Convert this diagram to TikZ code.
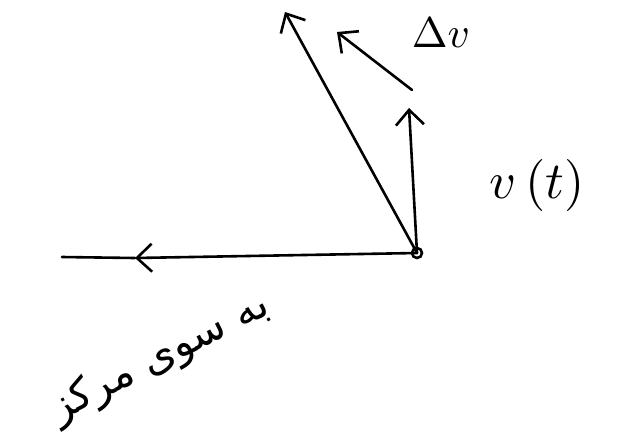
\documentclass[tikz,border=0pt]{standalone}
\usepackage{fontspec}
\usetikzlibrary{arrows.meta}
\newfontfamily\arabicfont[Script=Arabic]{DejaVu Sans}
\TeXXeTstate=1
\tikzset{
  vec/.style={line width=2.6pt, line cap=round, -{Straight Barb[length=15pt,width=28pt,line width=2.6pt]}},
  lbl/.style={inner sep=0pt}
}

\begin{document}
\begin{tikzpicture}[x=1pt,y=-1pt]
            \useasboundingbox (0,0) rectangle (619,440);
            \coordinate (O) at (417,253);
            \coordinate (vt) at (409,108);
            \coordinate (vdt) at (285,12);
            \coordinate (dvs) at (412,90);
            \coordinate (dve) at (337,32);
            \coordinate (tipw) at (135,258);
            \coordinate (west) at (62,257);

            \draw[vec] (O) -- (vt);
            \draw[vec] (O) -- (vdt);
            \draw[vec] (dvs) -- (dve);
            \draw[vec] (O) -- (tipw);
            \draw[line width=2.6pt, line cap=round] (tipw) -- (west);
            \draw[line width=2.6pt] (O) circle (5);

            \node[lbl, scale=4.3] (dv) at (441,33) {$\Delta v$};
            \node[lbl, scale=5.2] (vlabel) at (537,185) {$v\,(t)$};
            \node[lbl, rotate=27] (center) at (160,358) {\fontsize{42}{50}\selectfont\arabicfont\beginR به سوی مرکز\endR};
         \end{tikzpicture}
\end{document}
